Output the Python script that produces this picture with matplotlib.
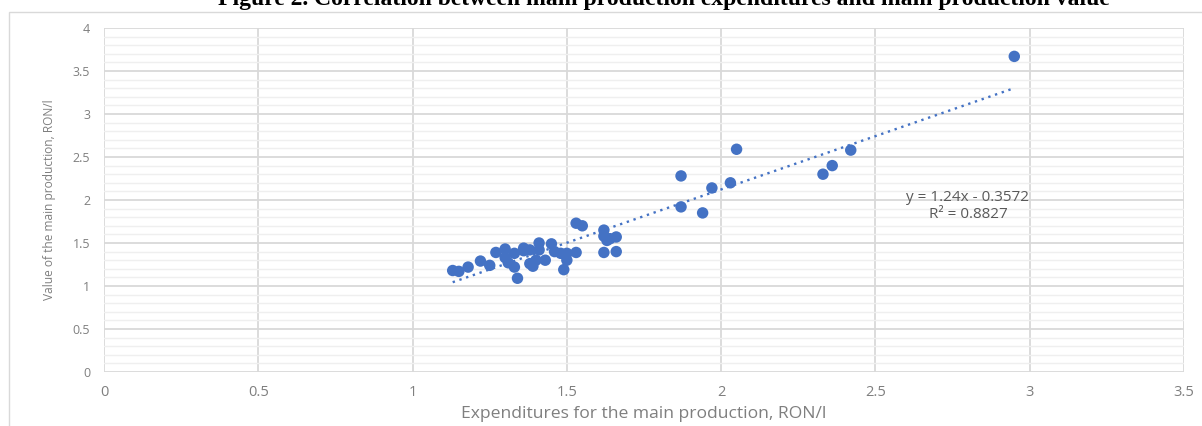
import numpy as np
import matplotlib.pyplot as plt
from matplotlib.ticker import MultipleLocator
from matplotlib.patches import Rectangle

# Expenditures (x) and value (y) of the main production, RON/l
expenditures = [1.13, 1.15, 1.18, 1.22, 1.25, 1.27, 1.30, 1.30, 1.31, 1.33,
                1.34, 1.33, 1.36, 1.36, 1.38, 1.38, 1.39, 1.40, 1.41, 1.41,
                1.43, 1.45, 1.46, 1.48, 1.50, 1.50, 1.49, 1.53, 1.53, 1.55,
                1.62, 1.62, 1.64, 1.66, 1.63, 1.62, 1.66, 1.87, 1.87, 1.94,
                1.97, 2.03, 2.05, 2.33, 2.36, 2.42, 2.95]
values = [1.18, 1.17, 1.22, 1.29, 1.24, 1.39, 1.43, 1.33, 1.27, 1.22,
          1.09, 1.38, 1.44, 1.41, 1.42, 1.26, 1.23, 1.30, 1.50, 1.42,
          1.30, 1.49, 1.40, 1.38, 1.38, 1.30, 1.19, 1.39, 1.73, 1.70,
          1.65, 1.58, 1.55, 1.57, 1.53, 1.39, 1.40, 2.28, 1.92, 1.85,
          2.14, 2.20, 2.59, 2.30, 2.40, 2.58, 3.67]

# Trendline as printed on the chart
slope = 1.24
intercept = -0.3572
r_squared = 0.8827

x_ticks = [0, 0.5, 1, 1.5, 2, 2.5, 3, 3.5]
y_ticks = [0, 0.5, 1, 1.5, 2, 2.5, 3, 3.5, 4]

blue = '#4472C4'
grey_text = '#7f7f7f'

fig = plt.figure(figsize=(12.02, 4.26), dpi=100)
ax = fig.add_axes([104 / 1202, 1 - 372 / 426, 1080 / 1202, 344 / 426])

# Outer chart frame (light grey)
fig.patches.append(Rectangle((9 / 1202, -0.05), 1.2, 1 - 12 / 426 + 0.05,
                             transform=fig.transFigure, fill=False,
                             edgecolor='#d9d9d9', linewidth=1.0))

# Title, partly cut off at the top edge as in the source
fig.text(664 / 1202, 1 - 5 / 426,
         'Figure 2. Correlation between main production expenditures and main production value',
         ha='center', va='baseline', fontsize=17, fontweight='bold',
         family='Liberation Serif', color='black')

# Grid
ax.set_xlim(0, 3.5)
ax.set_ylim(0, 4)
ax.set_xticks(x_ticks)
ax.set_yticks(y_ticks)
ax.yaxis.set_minor_locator(MultipleLocator(0.1))
ax.grid(which='major', color='#d9d9d9', linewidth=1.3)
ax.grid(which='minor', axis='y', color='#efefef', linewidth=1.0)
ax.set_axisbelow(True)
for s in ax.spines.values():
    s.set_visible(False)
ax.tick_params(which='both', length=0)
ax.tick_params(axis='x', pad=9)
ax.tick_params(axis='y', pad=10)
ax.set_xticklabels([f'{t:g}' for t in x_ticks], fontsize=10.5, color=grey_text, family='Open Sans')
ax.set_yticklabels([f'{t:g}' for t in y_ticks], fontsize=9, color=grey_text, family='Open Sans')

# Points
ax.scatter(expenditures, values, s=68, color=blue, edgecolors='none', zorder=3)

# Linear trendline (dotted)
xs = np.array([min(expenditures), max(expenditures)])
ax.plot(xs, slope * xs + intercept, linestyle=(0, (1, 2)), color=blue,
        linewidth=1.7, zorder=2)

ax.text(2.8, 1.93, f'y = {slope:.2f}x - {abs(intercept):.4f}\nR² = {r_squared:.4f}',
        ha='center', va='center', fontsize=11, color='#595959',
        family='Open Sans', linespacing=1.15)

ax.set_xlabel('Expenditures for the main production, RON/l', fontsize=12.6,
              color=grey_text, family='Open Sans', labelpad=5)
ax.set_ylabel('Value of the main production, RON/l', fontsize=8.6,
              color=grey_text, family='Open Sans', labelpad=12)

fig.savefig('out.png', dpi=100)
